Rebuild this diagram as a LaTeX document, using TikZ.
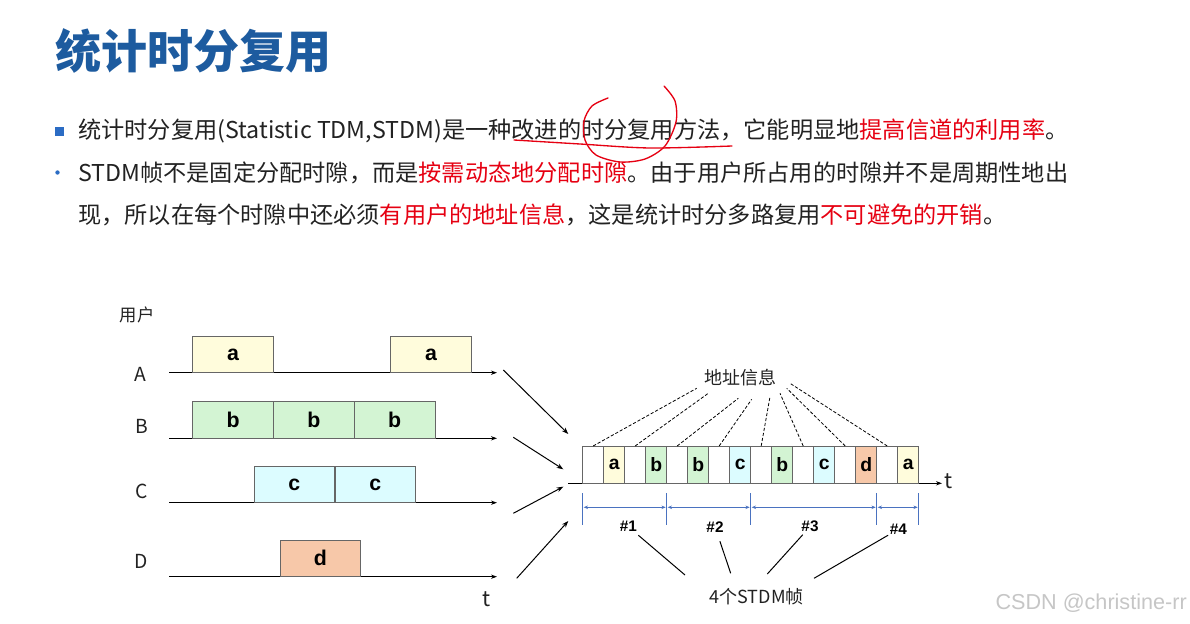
\documentclass[tikz,border=0pt]{standalone}
\usepackage{fontspec}
\setmainfont{Noto Sans CJK SC}
\newfontfamily\boxfont{Liberation Sans}
\usepackage{xcolor}
\usetikzlibrary{arrows.meta}
\definecolor{titleblue}{HTML}{1D5B9F}
\definecolor{bulletblue}{HTML}{2B6CC4}
\definecolor{textgray}{HTML}{222222}
\definecolor{hlred}{HTML}{E60012}
\definecolor{ayellow}{HTML}{FFFCDC}
\definecolor{bgreen}{HTML}{D3F4D3}
\definecolor{ccyan}{HTML}{DCFCFF}
\definecolor{dorange}{HTML}{F7C8A9}
\definecolor{dimblue}{HTML}{4A72C0}

\begin{document}
\begin{tikzpicture}[x=0.75pt,y=-0.75pt,
 body/.style={anchor=west,inner sep=0pt,text=textgray,font=\fontsize{17.4}{20}\selectfont},
 ublock/.style={draw=gray!80!black,line width=0.6pt,inner sep=0pt,outer sep=0pt,anchor=south west,
   minimum width=60.5pt,minimum height=27.5pt,font=\boxfont\fontsize{16}{16}\selectfont\bfseries},
 cell/.style={draw=gray!80!black,line width=0.6pt,inner sep=0pt,outer sep=0pt,anchor=south west,
   minimum width=15.75pt,minimum height=28pt,font=\boxfont\fontsize{14.5}{14.5}\selectfont\bfseries},
 axis/.style={line width=0.8pt,-{Stealth[length=4.5pt,width=3.2pt]}},
 conv/.style={line width=0.75pt,-{Stealth[length=5pt,width=3.6pt]}},
 addrline/.style={line width=0.6pt,dash pattern=on 2.4pt off 1.4pt},
 dimline/.style={dimblue,line width=0.7pt},
 rowlbl/.style={font=\fontsize{14.5}{14.5}\selectfont,text=textgray},
 framelbl/.style={inner sep=1pt,font=\boxfont\fontsize{11.5}{11.5}\selectfont\bfseries}]
 \fill[white] (0,0) rectangle (1190,624);
 \useasboundingbox (0,0) rectangle (1190,624);
 % title and bullet text
 \node[anchor=west,inner sep=0pt,text=titleblue,font=\fontsize{34.5}{34.5}\selectfont\bfseries] (title) at (55,51) {统计时分复用};
 \fill[bulletblue] (55,127.5) rectangle (64,136.5);
 \fill[bulletblue] (57.5,172.5) circle (2.2);
 \node[body] (line1) at (78,131) {统计时分复用(Statistic TDM,STDM)是一种改进的时分复用方法，它能明显地\textcolor{hlred}{提高信道的利用率}。};
 \node[body] (line2) at (78,173) {STDM帧不是固定分配时隙，而是\textcolor{hlred}{按需动态地分配时隙}。由于用户所占用的时隙并不是周期性地出};
 \node[body] (line3) at (78,215) {现，所以在每个时隙中还必须\textcolor{hlred}{有用户的地址信息}，这是统计时分多路复用\textcolor{hlred}{不可避免的开销}。};
 % hand marks
 \draw[hlred,line width=1pt,line cap=round] plot[smooth] coordinates {(514,140) (580,144) (650,148) (732,146)};
 \draw[hlred,line width=1pt,line cap=round] plot[smooth] coordinates {(608,98) (592,106) (584,121) (585,140) (596,155) (620,162) (645,159) (665,146) (676,122) (675,101) (664,86)};
 % users
 \node[rowlbl,font=\fontsize{13}{13}\selectfont] (user) at (137,315) {用户};
 \node[rowlbl] (uA) at (140,374) {A};
 \node[rowlbl] (uB) at (141.5,426.5) {B};
 \node[rowlbl] (uC) at (141.5,491.5) {C};
 \node[rowlbl] (uD) at (141.5,561.5) {D};
 \foreach \y in {372.7,438.3,502.7,576.7}{\draw[axis] (169,\y) -- (497,\y);}
 \node[rowlbl,font=\fontsize{16}{16}\selectfont] (tl) at (486.7,599) {t};
 \node[ublock,fill=ayellow] (a1) at (192.7,372.7) {a};
 \node[ublock,fill=ayellow] (a2) at (390.7,372.7) {a};
 \node[ublock,fill=bgreen] (b1) at (192.7,438.3) {b};
 \node[ublock,fill=bgreen] (b2) at (273.5,438.3) {b};
 \node[ublock,fill=bgreen] (b3) at (354.3,438.3) {b};
 \node[ublock,fill=ccyan] (c1) at (254,502.7) {c};
 \node[ublock,fill=ccyan] (c2) at (335,502.7) {c};
 \node[ublock,fill=dorange] (d1) at (280,576.7) {d};
 % arrows into the multiplexed line
 \coordinate (inA) at (503.3,370);   \coordinate (toA) at (568.3,434);
 \coordinate (inB) at (513.3,437.3); \coordinate (toB) at (563.3,469.3);
 \coordinate (inC) at (513.3,513.3); \coordinate (toC) at (563.3,486.7);
 \coordinate (inD) at (516.7,578.3); \coordinate (toD) at (568.3,521);
 \foreach \u in {A,B,C,D}{\draw[conv] (in\u) -- (to\u);}
 % STDM frames
 \draw[axis] (568.3,483.3) -- (942,483.3);
 \node[rowlbl,font=\fontsize{16}{16}\selectfont] (tr) at (949,481) {t};
 \foreach \t/\col [count=\i from 0] in {/white,a/ayellow,/white,b/bgreen,/white,b/bgreen,/white,c/ccyan,/white,b/bgreen,/white,c/ccyan,/white,d/dorange,/white,a/ayellow}
  \node[cell,fill=\col] (s\i) at ({582.7+21*\i},483.3) {\t};
 \node[rowlbl,font=\fontsize{13.5}{13.5}\selectfont] (addr) at (740,378) {地址信息};
 \foreach \i/\x/\y in {0/696.7/388.3,2/708.3/393.3,4/738.3/398.3,6/751.7/399.3,8/770/396.7,10/780/393.3,12/786.7/388.3,14/790/383.3}{
  \coordinate (q\i) at (\x,\y);
  \draw[addrline] (s\i.north) -- (q\i);}
 \foreach \i in {0,4,8,14,16}{\draw[dimline] ({582.7+21*\i},493.3) -- ({582.7+21*\i},525);}
 \foreach \i/\j in {0/4,4/8,8/14,14/16}{\draw[dimline,{Stealth[length=3.2pt,width=2.6pt]}-{Stealth[length=3.2pt,width=2.6pt]}] ({582.7+21*\i+1},507.3) -- ({582.7+21*\j-1},507.3);}
 \node[framelbl] (f1) at (628.3,526.7) {\#1};
 \node[framelbl] (f2) at (715,526.7) {\#2};
 \node[framelbl] (f3) at (810,526.7) {\#3};
 \node[framelbl] (f4) at (898.3,529.3) {\#4};
 \node[rowlbl,font=\fontsize{13.5}{13.5}\selectfont] (frames) at (756.7,597) {4个STDM帧};
 \coordinate (e1) at (685,575);
 \coordinate (e2) at (730.7,573.3);
 \coordinate (e3) at (767.3,574);
 \coordinate (e4) at (814,578.3);
 \draw[line width=0.75pt,shorten <=2pt] (f1) -- (e1);
 \draw[line width=0.75pt,shorten <=6pt] (f2) -- (e2);
 \draw[line width=0.75pt,shorten <=1pt] (f3) -- (e3);
 \draw[line width=0.75pt] (f4) -- (e4);
 % watermark
 \node[anchor=east,inner sep=0pt,text=gray!45,font=\boxfont\fontsize{16.2}{16.2}\selectfont] (mark) at (1187,603) {CSDN @christine-rr};
\end{tikzpicture}
\end{document}
